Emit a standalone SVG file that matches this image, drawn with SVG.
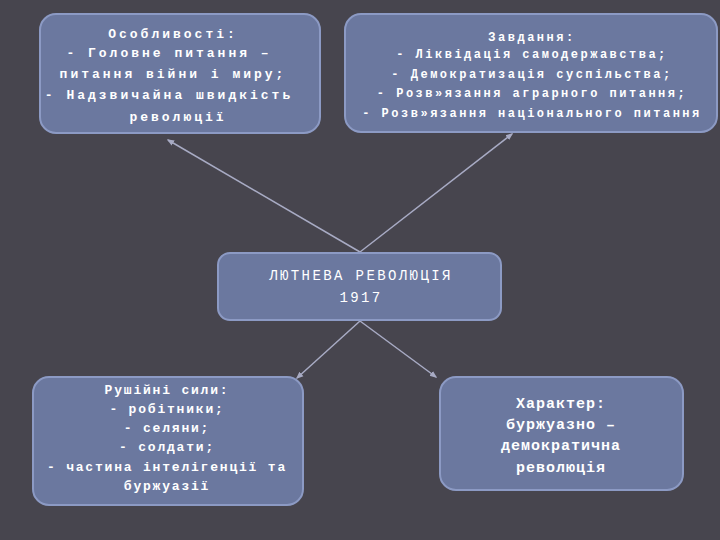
<svg xmlns="http://www.w3.org/2000/svg" width="720" height="540" viewBox="0 0 720 540">
<defs>
<style>
.b{fill:#6b789f;stroke:#8c9ac4;stroke-width:2}
.t{font-family:"Liberation Mono","DejaVu Sans Mono",monospace;fill:#fff;text-anchor:middle}
.tb{font-weight:bold;font-size:13px}
.c{stroke:#a8abc4;stroke-width:1.5;fill:none;marker-end:url(#a)}
#n1 text{letter-spacing:3px}
#n2 text{font-size:12px;letter-spacing:2.5px}
#n3 text{font-size:14px;letter-spacing:2.4px}
#n4 text{letter-spacing:1.8px}
#n5 text{font-size:15px;letter-spacing:1px}
</style>
<marker id="a" viewBox="0 0 10 10" refX="8" refY="5" markerWidth="5" markerHeight="5" orient="auto"><path d="M0,1L10,5L0,9z" fill="#a8abc4"/></marker>
</defs>
<rect width="720" height="540" fill="#47454e"/>
<g id="connectors">
<line class="c" x1="360" y1="252" x2="168" y2="140"/>
<line class="c" x1="360" y1="252" x2="512" y2="134"/>
<line class="c" x1="360" y1="321" x2="297" y2="378"/>
<line class="c" x1="360" y1="321" x2="436" y2="377"/>
</g>
<g id="n1"><rect class="b" x="40" y="14" width="280" height="119" rx="16"/>
<text class="t tb" x="173" y="38">Особливості:</text>
<text class="t tb" x="169" y="57">- Головне питання –</text>
<text class="t tb" x="173" y="78">питання війни і миру;</text>
<text class="t tb" x="169" y="99">- Надзвичайна швидкість</text>
<text class="t tb" x="178" y="121">революції</text></g>
<g id="n2"><rect class="b" x="345" y="14" width="372" height="118" rx="16"/>
<text class="t tb" x="532" y="41">Завдання:</text>
<text class="t tb" x="532" y="58">- Ліквідація самодержавства;</text>
<text class="t tb" x="532" y="78">- Демократизація суспільства;</text>
<text class="t tb" x="532" y="97">- Розв»язання аграрного питання;</text>
<text class="t tb" x="532" y="117">- Розв»язання національного питання</text></g>
<g id="n3"><rect class="b" x="218" y="253" width="283" height="67" rx="12"/>
<text class="t" x="361" y="280">ЛЮТНЕВА РЕВОЛЮЦІЯ</text>
<text class="t" x="361" y="302">1917</text></g>
<g id="n4"><rect class="b" x="33" y="377" width="270" height="128" rx="16"/>
<text class="t tb" x="167" y="394">Рушійні сили:</text>
<text class="t tb" x="167" y="413">- робітники;</text>
<text class="t tb" x="167" y="432">- селяни;</text>
<text class="t tb" x="167" y="451">- солдати;</text>
<text class="t tb" x="167" y="471">- частина інтелігенції та</text>
<text class="t tb" x="167" y="490">буржуазії</text></g>
<g id="n5"><rect class="b" x="440" y="377" width="243" height="113" rx="16"/>
<text class="t tb" x="561" y="408">Характер:</text>
<text class="t tb" x="561" y="429">буржуазно –</text>
<text class="t tb" x="561" y="450">демократична</text>
<text class="t tb" x="561" y="472">революція</text></g>
</svg>
